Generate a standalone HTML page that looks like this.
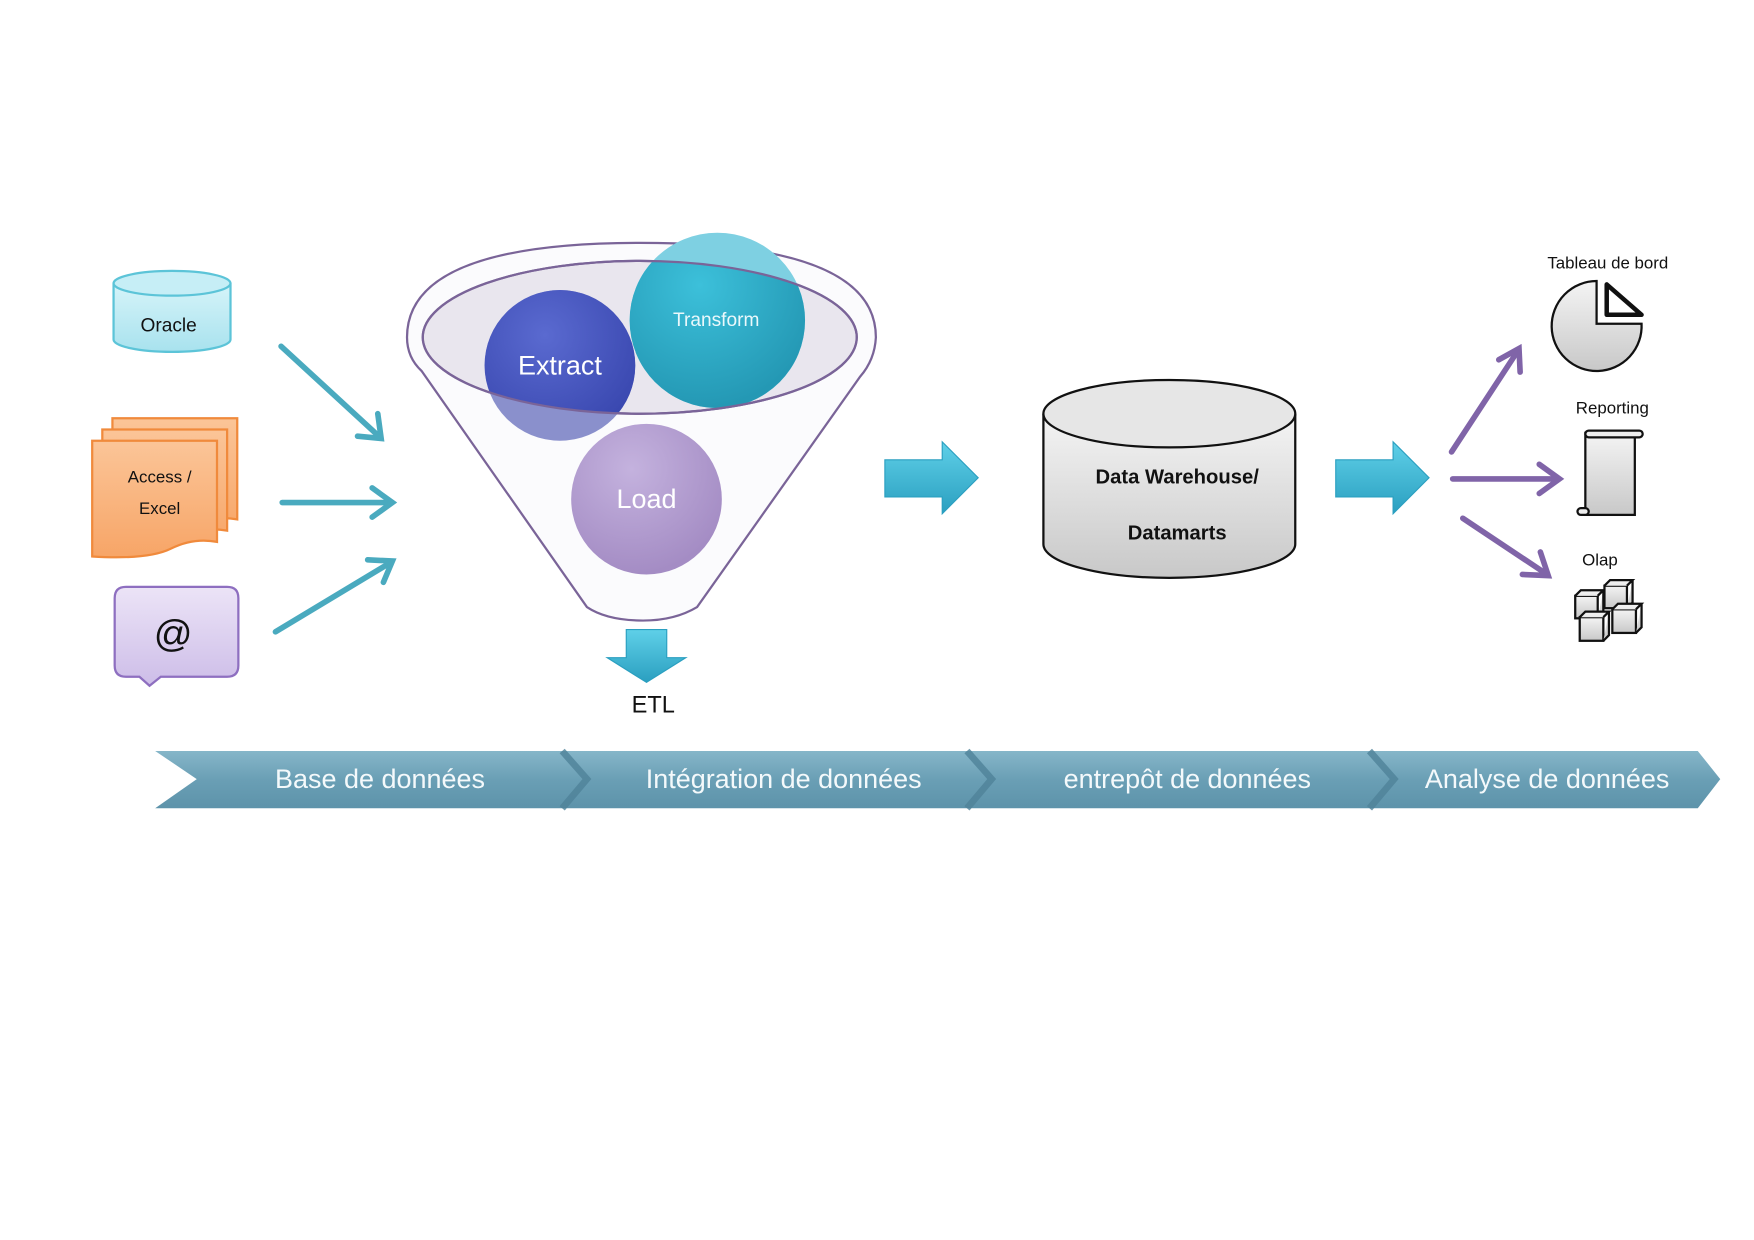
<!DOCTYPE html>
<html><head><meta charset="utf-8"><style>
html,body{margin:0;padding:0;background:#fff;}
svg{display:block;}
text{font-family:"Liberation Sans","DejaVu Sans",sans-serif;}
</style></head><body>
<svg width="1754" height="1240" viewBox="0 0 1560 1103" preserveAspectRatio="none" xmlns="http://www.w3.org/2000/svg">
<defs>
<linearGradient id="gcy" x1="0" y1="0" x2="0" y2="1"><stop offset="0" stop-color="#d6f4f9"/><stop offset="1" stop-color="#a8e2ee"/></linearGradient>
<linearGradient id="gor" x1="0" y1="0" x2="0" y2="1"><stop offset="0" stop-color="#fbc598"/><stop offset="1" stop-color="#f7a567"/></linearGradient>
<linearGradient id="gpu" x1="0" y1="0" x2="0" y2="1"><stop offset="0" stop-color="#ece4f7"/><stop offset="1" stop-color="#cdbde8"/></linearGradient>
<linearGradient id="ggr" x1="0" y1="0" x2="0" y2="1"><stop offset="0" stop-color="#f4f4f4"/><stop offset="1" stop-color="#c8c8c8"/></linearGradient>
<linearGradient id="gar" x1="0" y1="0" x2="0" y2="1"><stop offset="0" stop-color="#5fd0e8"/><stop offset="1" stop-color="#2a9fc0"/></linearGradient>
<linearGradient id="gband" x1="0" y1="0" x2="0" y2="1"><stop offset="0" stop-color="#86b6c9"/><stop offset="0.5" stop-color="#6a9fb5"/><stop offset="1" stop-color="#5d93aa"/></linearGradient>
<radialGradient id="gex" cx="0.4" cy="0.3" r="0.7"><stop offset="0" stop-color="#5a6ad0"/><stop offset="1" stop-color="#3a48b0"/></radialGradient>
<radialGradient id="gtr" cx="0.4" cy="0.3" r="0.7"><stop offset="0" stop-color="#3cc0da"/><stop offset="1" stop-color="#2498b4"/></radialGradient>
<radialGradient id="glo" cx="0.4" cy="0.3" r="0.7"><stop offset="0" stop-color="#c4b2de"/><stop offset="1" stop-color="#a48cc4"/></radialGradient>
<clipPath id="cin"><ellipse cx="569" cy="300" rx="193" ry="68"/></clipPath>
</defs>

<path d="M101,252 L101,302 A52,11 0 0 0 205,302 L205,252" fill="url(#gcy)" stroke="#5cc4d8" stroke-width="2"/>
<ellipse cx="153" cy="252" rx="52" ry="11" fill="#c6eef6" stroke="#5cc4d8" stroke-width="2"/>
<text x="150" y="295" font-size="17" text-anchor="middle" fill="#111">Oracle</text>

<g stroke="#f08a3c" stroke-width="2" fill="url(#gor)">
<path d="M100,372 H211 V462 Q190,458 170,468 Q150,478 100,475 Z"/>
<path d="M91,382 H202 V472 Q181,468 161,478 Q141,488 91,485 Z"/>
<path d="M82,392 H193 V482 Q172,478 152,488 Q132,498 82,495 Z"/>
</g>
<text x="142" y="429" font-size="15" text-anchor="middle" fill="#111">Access /</text>
<text x="142" y="457" font-size="15" text-anchor="middle" fill="#111">Excel</text>

<path d="M112,522 H202 Q212,522 212,532 V592 Q212,602 202,602 H143 L133,610 L124,602 H112 Q102,602 102,592 V532 Q102,522 112,522 Z" fill="url(#gpu)" stroke="#8e6fc0" stroke-width="2"/>
<text x="154" y="575" font-size="34" text-anchor="middle" fill="#111">@</text>

<g stroke="#4aaabf" stroke-width="5" fill="none" stroke-linecap="round">
<line x1="250" y1="308" x2="338" y2="389"/><path d="M318,388 L339,390 L336,368"/>
<line x1="251" y1="447" x2="348" y2="447"/><path d="M331,434 L349,447 L331,460"/>
<line x1="245" y1="562" x2="348" y2="500"/><path d="M327,498 L349,499 L341,518"/>
</g>

<path d="M362,300 Q362,216 569,216 Q779,216 779,300 Q778,320 765,335 L620,540 Q600,552 572,552 Q540,552 522,540 L375,330 Q362,318 362,300 Z" fill="#fbfbfd" stroke="#7a6498" stroke-width="2"/>
<ellipse cx="569" cy="300" rx="193" ry="68" fill="#e9e6ee" stroke="#7a6498" stroke-width="2"/>
<circle cx="498" cy="325" r="67" fill="#8a90cc"/>
<circle cx="498" cy="325" r="67" fill="url(#gex)" clip-path="url(#cin)"/>
<circle cx="638" cy="285" r="78" fill="#7ed0e2"/>
<circle cx="638" cy="285" r="78" fill="url(#gtr)" clip-path="url(#cin)"/>
<ellipse cx="569" cy="300" rx="193" ry="68" fill="none" stroke="#7a6498" stroke-width="2"/>
<text x="498" y="333" font-size="24" text-anchor="middle" fill="#fff">Extract</text>
<text x="637" y="290" font-size="17" text-anchor="middle" fill="#eaf8fb">Transform</text>
<circle cx="575" cy="444" r="67" fill="url(#glo)"/>
<text x="575" y="452" font-size="24" text-anchor="middle" fill="#fff">Load</text>

<path d="M557,560 H593 V585 H610 L575,607 L540,585 H557 Z" fill="url(#gar)" stroke="#2a9fc0" stroke-width="1"/>
<text x="581" y="634" font-size="21" text-anchor="middle" fill="#111">ETL</text>

<path d="M787,409 H838 V393 L870,425 L838,457 V442 H787 Z" fill="url(#gar)" stroke="#2a9fc0" stroke-width="1"/>
<path d="M1188,409 H1239 V393 L1271,425 L1239,457 V442 H1188 Z" fill="url(#gar)" stroke="#2a9fc0" stroke-width="1"/>

<path d="M928,368 V484 A112,30 0 0 0 1152,484 V368" fill="url(#ggr)" stroke="#111" stroke-width="2"/>
<ellipse cx="1040" cy="368" rx="112" ry="30" fill="#e6e6e6" stroke="#111" stroke-width="2"/>
<text x="1047" y="430" font-size="18" font-weight="bold" text-anchor="middle" fill="#111">Data Warehouse/</text>
<text x="1047" y="480" font-size="18" font-weight="bold" text-anchor="middle" fill="#111">Datamarts</text>

<g stroke="#8064a8" stroke-width="5" fill="none" stroke-linecap="round">
<line x1="1291" y1="402" x2="1350" y2="312"/><path d="M1333,320 L1351,310 L1352,331"/>
<line x1="1292" y1="426" x2="1386" y2="426"/><path d="M1369,413 L1387,426 L1369,439"/>
<line x1="1301" y1="461" x2="1376" y2="511"/><path d="M1354,511 L1377,512 L1370,491"/>
</g>

<text x="1430" y="239" font-size="15" text-anchor="middle" fill="#111">Tableau de bord</text>
<path d="M1420,250 A40,40 0 1 0 1460,288 L1420,288 Z" fill="url(#ggr)" stroke="#111" stroke-width="2"/>
<path d="M1429,253 L1429,280 L1460,280 Z" fill="#fff" stroke="#111" stroke-width="4" stroke-linejoin="round"/>

<text x="1434" y="368" font-size="15" text-anchor="middle" fill="#111">Reporting</text>
<rect x="1410" y="385" width="44" height="73" fill="url(#ggr)" stroke="#111" stroke-width="2"/>
<rect x="1410" y="383" width="51" height="6" rx="3" fill="#eee" stroke="#111" stroke-width="2"/>
<rect x="1403" y="452" width="10" height="6" rx="3" fill="#eee" stroke="#111" stroke-width="2"/>

<text x="1423" y="503" font-size="15" text-anchor="middle" fill="#111">Olap</text>
<g fill="url(#ggr)" stroke="#111" stroke-width="2">
<rect x="1401" y="530" width="20" height="20"/><path d="M1401,530 l5,-5 h20 l-5,5 M1421,550 l5,-5 v-20"/>
<rect x="1427" y="521" width="20" height="20"/><path d="M1427,521 l5,-5 h20 l-5,5 M1447,541 l5,-5 v-20"/>
<rect x="1405" y="549" width="21" height="21"/><path d="M1405,549 l5,-5 h21 l-5,5 M1426,570 l5,-5 v-21"/>
<rect x="1434" y="542" width="21" height="21"/><path d="M1434,542 l5,-5 h21 l-5,5 M1455,563 l5,-5 v-21"/>
</g>

<path d="M138,668 H1510 L1530,693 L1510,719 H138 L175,693 Z" fill="url(#gband)"/>
<g fill="none" stroke="#4f8298" stroke-width="6" opacity="0.8">
<path d="M500,668 L522,693 L500,719"/>
<path d="M860,668 L882,693 L860,719"/>
<path d="M1218,668 L1240,693 L1218,719"/>
</g>
<g font-size="24" fill="#f4f9fb" text-anchor="middle">
<text x="338" y="701">Base de données</text>
<text x="697" y="701">Intégration de données</text>
<text x="1056" y="701">entrepôt de données</text>
<text x="1376" y="701">Analyse de données</text>
</g>
</svg>
</body></html>
